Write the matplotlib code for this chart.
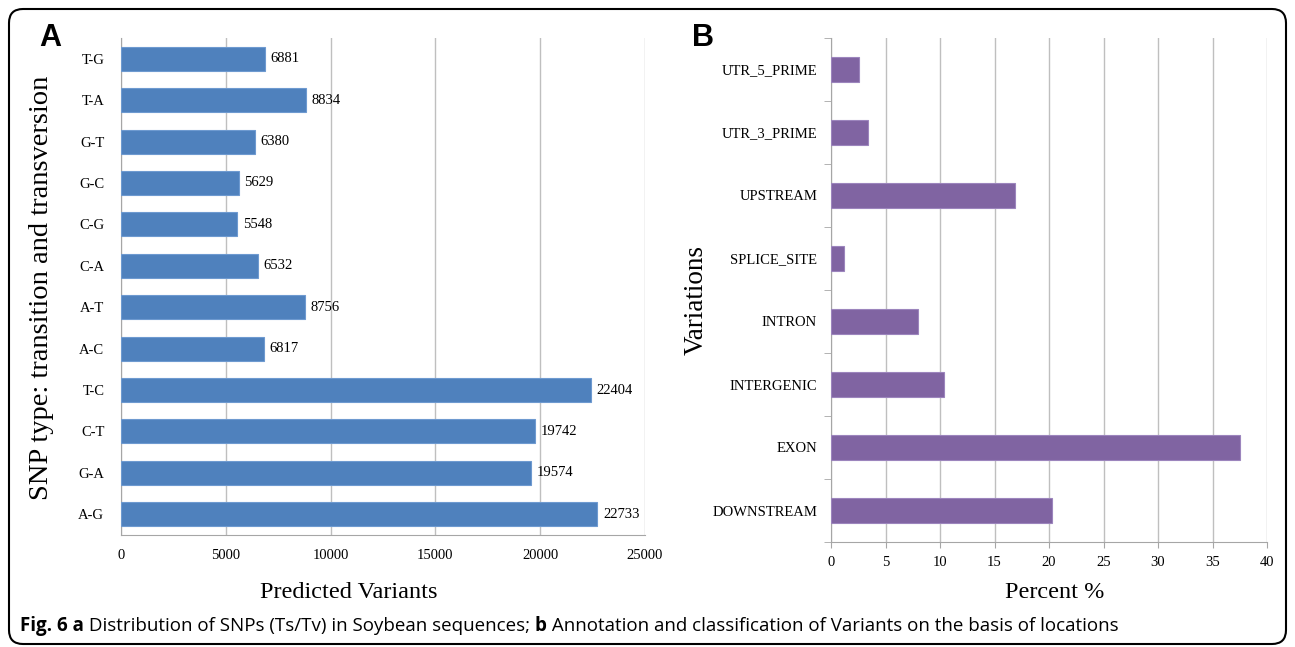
import matplotlib
matplotlib.use("Agg")
import matplotlib.pyplot as plt
from matplotlib.patches import FancyBboxPatch
import numpy as np

# ---- data ----
snp_types = ["T-G", "T-A", "G-T", "G-C", "C-G", "C-A", "A-T", "A-C", "T-C", "C-T", "G-A", "A-G"]
snp_counts = [6881, 8834, 6380, 5629, 5548, 6532, 8756, 6817, 22404, 19742, 19574, 22733]

variation_types = ["UTR_5_PRIME", "UTR_3_PRIME", "UPSTREAM", "SPLICE_SITE", "INTRON",
                   "INTERGENIC", "EXON", "DOWNSTREAM"]
variation_pct = [2.6, 3.4, 16.9, 1.2, 8.0, 10.4, 37.5, 20.3]

a_xticks = [0, 5000, 10000, 15000, 20000, 25000]
b_xticks = [0, 5, 10, 15, 20, 25, 30, 35, 40]

caption_parts = [("Fig. 6 a", "bold"),
                 (" Distribution of SNPs (Ts/Tv) in Soybean sequences; ", "normal"),
                 ("b", "bold"),
                 (" Annotation and classification of Variants on the basis of locations", "normal")]

SERIF = "Liberation Serif"
BLUE = "#4F81BD"
PURPLE = "#8064A2"
GRID = "#BFBFBF"
AXC = "#A6A6A6"

W, H = 1295, 647
fig = plt.figure(figsize=(W / 100, H / 100), dpi=100)

# background frame
bg = fig.add_axes([0, 0, 1, 1], zorder=-10)
bg.set_xlim(0, W)
bg.set_ylim(H, 0)
bg.axis("off")
bg.add_patch(FancyBboxPatch((9, 9), W - 18, H - 12,
                            boxstyle="round,pad=0,rounding_size=14",
                            fill=False, edgecolor="black", linewidth=1.5))

def fx(px):
    return px / W

def fy(py):
    return 1 - py / H

# ---- Panel A ----
axA = fig.add_axes([fx(121), fy(535), fx(645 - 121), fy(38) - fy(535)])
yA = np.arange(len(snp_types))
bars = axA.barh(yA, snp_counts, height=0.58, color=BLUE, edgecolor="#6E9AD0", linewidth=0.8, zorder=3)
axA.set_ylim(len(snp_types) - 0.5, -0.5)
axA.set_xlim(0, 25000)
axA.set_xticks(a_xticks)
axA.set_xticklabels([str(t) for t in a_xticks], fontfamily=SERIF, fontsize=10.5)
axA.set_yticks(yA)
axA.set_yticklabels(snp_types, fontfamily=SERIF, fontsize=10.5)
axA.tick_params(axis="y", length=0, pad=12)
axA.tick_params(axis="x", length=0, pad=10)
axA.grid(axis="x", color=GRID, linewidth=1, zorder=0)
for s in ["top", "right"]:
    axA.spines[s].set_visible(False)
axA.spines["left"].set_color(AXC)
axA.spines["bottom"].set_color(AXC)
axA.bar_label(bars, labels=[str(v) for v in snp_counts], padding=4,
              fontfamily=SERIF, fontsize=10.5)
fig.text(fx(349), fy(593), "Predicted Variants", fontfamily=SERIF, fontsize=17.5,
         ha="center", va="center")
fig.text(fx(42), fy(288), "SNP type: transition and transversion", fontfamily=SERIF,
         fontsize=20.5, rotation=90, ha="center", va="center")
fig.text(fx(50), fy(38), "A", fontfamily="Liberation Sans", fontweight="bold",
         fontsize=22, va="center", ha="center")

# ---- Panel B ----
axB = fig.add_axes([fx(831), fy(542), fx(1267 - 831), fy(38) - fy(542)])
yB = np.arange(len(variation_types))
axB.barh(yB, variation_pct, height=0.4, color=PURPLE, edgecolor="#9C85BD", linewidth=0.8, zorder=3)
axB.set_ylim(len(variation_types) - 0.5, -0.5)
axB.set_xlim(0, 40)
axB.set_xticks(b_xticks)
axB.set_xticklabels([str(t) for t in b_xticks], fontfamily=SERIF, fontsize=10.5)
axB.set_yticks(yB)
axB.set_yticklabels(variation_types, fontfamily=SERIF, fontsize=10.5)
axB.set_yticks(np.arange(-0.5, len(variation_types), 1.0), minor=True)
axB.tick_params(axis="y", which="major", length=0, pad=10)
axB.tick_params(axis="y", which="minor", length=5, color=AXC, direction="out")
axB.tick_params(axis="x", length=4, color=AXC, direction="out", pad=6)
axB.grid(axis="x", color=GRID, linewidth=1, zorder=0)
for s in ["top", "right"]:
    axB.spines[s].set_visible(False)
axB.spines["left"].set_color(AXC)
axB.spines["bottom"].set_color(AXC)
fig.text(fx(1055), fy(592), "Percent %", fontfamily=SERIF, fontsize=17.5,
         ha="center", va="center")
fig.text(fx(696), fy(300), "Variations", fontfamily=SERIF, fontsize=19.5,
         rotation=90, ha="center", va="center")
fig.text(fx(703), fy(38), "B", fontfamily="Liberation Sans", fontweight="bold",
         fontsize=22, va="center", ha="center")

# ---- caption ----
fig.canvas.draw()
renderer = fig.canvas.get_renderer()
x = fx(20)
for txt, wt in caption_parts:
    t = fig.text(x, fy(626), txt, fontfamily="Open Sans", fontweight=wt, fontsize=13.5,
                 va="center", ha="left")
    bb = t.get_window_extent(renderer=renderer)
    x += bb.width / W

fig.savefig("out.png", dpi=100)
